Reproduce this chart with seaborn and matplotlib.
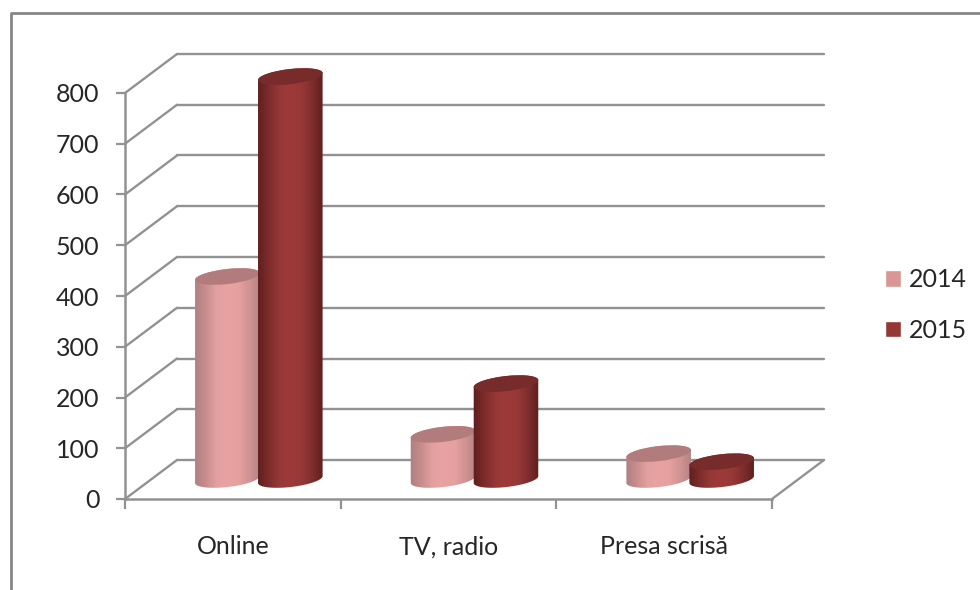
import numpy as np
import pandas as pd
import seaborn as sns
from matplotlib import pyplot as plt
from matplotlib.colors import LinearSegmentedColormap
from matplotlib.lines import Line2D
from matplotlib.patches import Ellipse, Polygon
from matplotlib.transforms import Affine2D, IdentityTransform

channels = ['Online', 'TV, radio', 'Presa scrisă']
years = ['2014', '2015']
values_2014 = [400, 89, 51]
values_2015 = [794, 189, 35]
y_ticks = [0, 100, 200, 300, 400, 500, 600, 700, 800]

# legend / side colours
colors = {'2014': '#D99694', '2015': '#953735'}
top_colors = {'2014': '#B27B7C', '2015': '#772B2A'}
body_colors = {'2014': ['#AD8081', '#C98C8C', '#E2A0A0', '#E9A2A2', '#E6A0A0', '#D19292', '#B08384'],
               '2015': ['#5C1E1D', '#7C2C2B', '#963837', '#9D3A39', '#973837', '#7E2D2C', '#5C1E1D']}

grey = '#929292'
text_col = '#262626'
depth = (52, 39)  # size of the fake 3d floor, in pixels

sns.set_theme(style='white')
plt.rcParams['font.family'] = ['Lato', 'DejaVu Sans']

df = pd.DataFrame({'channel': channels * 2,
                   'year': [years[0]] * 3 + [years[1]] * 3,
                   'value': values_2014 + values_2015})

fig = plt.figure(figsize=(9.8, 5.9), dpi=100)
ax = fig.add_axes([125 / 980, 91 / 590, 647 / 980, 406 / 590])
ax.set_autoscale_on(False)

sns.barplot(data=df, x='channel', y='value', hue='year', palette=colors,
            width=0.584, gap=0, saturation=1, ax=ax, zorder=3)
ax.set_xlim(-0.5, 2.5)
ax.set_ylim(0, 800)

# walls
px = IdentityTransform()
for t in y_ticks:
    x0, y0 = ax.transData.transform((-0.5, t))
    x1, _ = ax.transData.transform((2.5, t))
    ax.plot([x0, x0 + depth[0]], [y0, y0 + depth[1]], color=grey, lw=1.7,
            transform=px, clip_on=False, zorder=1)
    ax.plot([x0 + depth[0], x1 + depth[0]], [y0 + depth[1]] * 2, color=grey, lw=1.7,
            transform=px, clip_on=False, zorder=1)
x1, y1 = ax.transData.transform((2.5, 0))
ax.plot([x1, x1 + depth[0]], [y1, y1 + depth[1]], color=grey, lw=1.7,
        transform=px, clip_on=False, zorder=1)

# legend first, the bars get narrowed below
handles, labels = ax.get_legend_handles_labels()
ax.legend(handles, labels, frameon=False, loc='center left',
          bbox_to_anchor=(862 / 980, 1 - 305 / 590), bbox_transform=fig.transFigure,
          fontsize=18, labelcolor=text_col, handlelength=0.64, handleheight=0.64,
          handletextpad=0.33, labelspacing=1.1)

# cylinders, on top of the seaborn bars
angle = np.radians(6.5)
b = 7.5
t_top = np.linspace(0, np.pi, 60)
t_bot = np.linspace(np.pi, 2 * np.pi, 60)
mid = Affine2D().translate(depth[0] / 2, depth[1] / 2)


def ellipse_pts(cx, cy, a, t):
    xs = cx + a * np.cos(t) * np.cos(angle) - b * np.sin(t) * np.sin(angle)
    ys = cy + a * np.cos(t) * np.sin(angle) + b * np.sin(t) * np.cos(angle)
    return np.column_stack([xs, ys])


for i, cont in enumerate(ax.containers):
    year = years[i]
    cmap = LinearSegmentedColormap.from_list('body' + year, body_colors[year])
    for bar in cont:
        xc = bar.get_x() + bar.get_width() / 2
        cx, cy_top = (ax.transData + mid).transform((xc, bar.get_height()))
        _, cy_bot = (ax.transData + mid).transform((xc, 0))
        left, _ = ax.transData.transform((bar.get_x(), 0))
        right, _ = ax.transData.transform((bar.get_x() + bar.get_width(), 0))
        a = (right - left) / 2 + 1

        # flat bar stays inside the round body
        bar.set_transform(ax.transData + mid)
        bar.set_clip_on(False)
        bar.set_x(xc - bar.get_width() * 0.4)
        bar.set_width(bar.get_width() * 0.8)

        outline = np.vstack([ellipse_pts(cx, cy_top, a, t_top),
                             ellipse_pts(cx, cy_bot, a, t_bot)])
        shape = Polygon(outline, closed=True, transform=px, fc='none', ec='none')
        ax.add_patch(shape)
        shape.set_clip_on(False)
        im = ax.imshow(np.linspace(0, 1, 128)[None, :], cmap=cmap, aspect='auto',
                       extent=(cx - a - 1, cx + a + 1, cy_bot - 12, cy_top + 12),
                       transform=px, zorder=3 + i * 0.1)
        im.set_clip_box(fig.bbox)
        im.set_clip_path(shape)
        shape.set_zorder(3 + i * 0.1)

        lid = Ellipse((cx, cy_top), 2 * a, 2 * b, angle=np.degrees(angle), transform=px,
                      fc=top_colors[year], ec='none', zorder=3.05 + i * 0.1)
        ax.add_patch(lid)
        lid.set_clip_on(False)
ax.set_xlim(-0.5, 2.5)
ax.set_ylim(0, 800)
ax.set_aspect('auto')

# axes
sns.despine(ax=ax)
for side in ['left', 'bottom']:
    ax.spines[side].set_color(grey)
    ax.spines[side].set_linewidth(1.8)
ax.set_yticks(y_ticks)
ax.tick_params(axis='y', length=6.5, width=1.6, color=grey, left=True, pad=12,
               labelsize=18, labelcolor=text_col)
ax.set_xticks([-0.5, 0.5, 1.5, 2.5], labels=[])
ax.set_xticks([0, 1, 2], labels=channels, minor=True)
ax.tick_params(axis='x', which='major', length=7, width=1.6, color=grey, bottom=True)
ax.tick_params(axis='x', which='minor', length=0, pad=26, labelsize=18, labelcolor=text_col)
ax.set_xlabel('')
ax.set_ylabel('')

# outer chart frame, cut by the picture's edge
fig.add_artist(Line2D([11 / 980, 11 / 980, 1], [0, 1 - 13 / 590, 1 - 13 / 590],
                      color='#868686', lw=2))

fig.savefig('out.png', dpi=100)
